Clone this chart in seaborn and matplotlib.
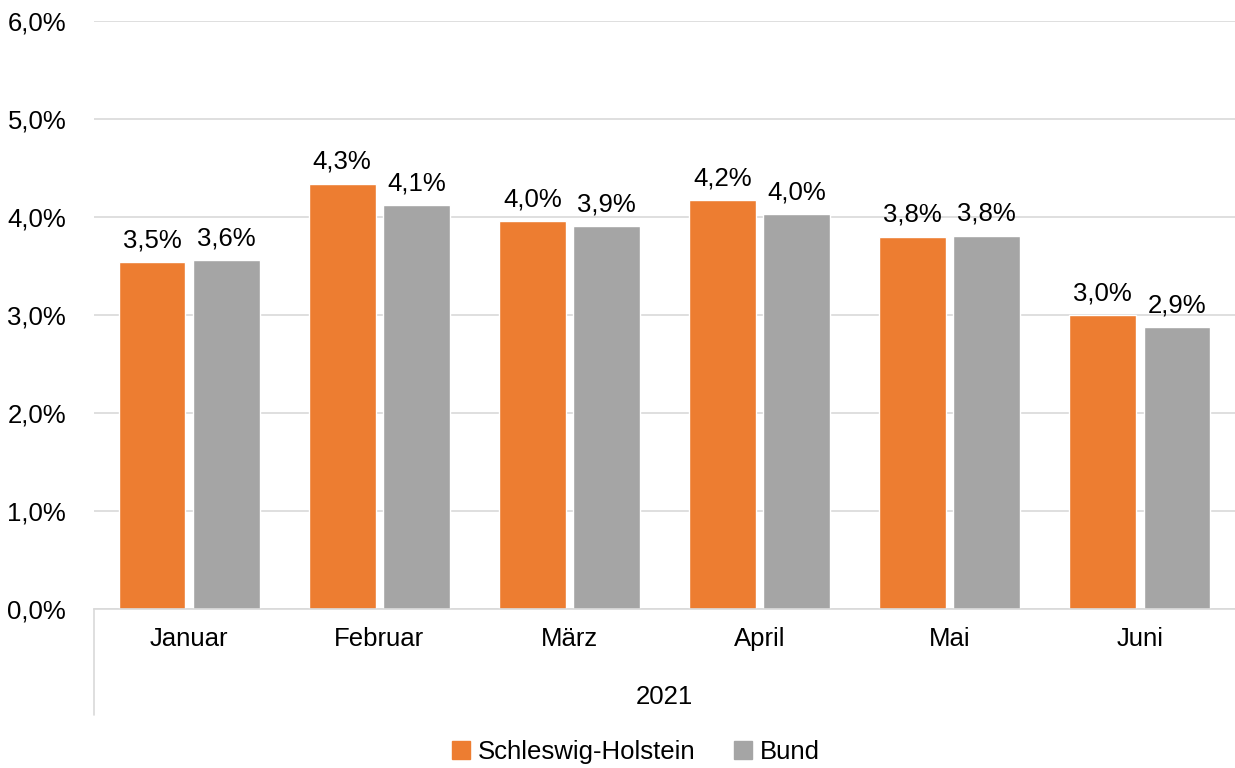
import pandas as pd
import matplotlib.pyplot as plt
import seaborn as sns

# values (percent)
months = ['Januar', 'Februar', 'März', 'April', 'Mai', 'Juni']
sh_values = [3.54, 4.34, 3.96, 4.17, 3.80, 3.00]
bund_values = [3.56, 4.12, 3.91, 4.03, 3.81, 2.88]
regions = ['Schleswig-Holstein', 'Bund']
year_label = '2021'
colors = ['#ED7D31', '#A5A5A5']

df = pd.DataFrame({
    'Monat': months * 2,
    'Wert': sh_values + bund_values,
    'Region': [regions[0]] * len(months) + [regions[1]] * len(months),
})

sns.set_style('white')
plt.rcParams['font.family'] = ['Liberation Sans Narrow', 'Liberation Sans', 'DejaVu Sans']
plt.rcParams['text.color'] = 'black'
plt.rcParams['xtick.color'] = 'black'
plt.rcParams['ytick.color'] = 'black'

fs = 18.5

fig = plt.figure(figsize=(12.35, 7.68), dpi=100)
ax = fig.add_axes([94 / 1235, 1 - 609 / 768, 1 - 94 / 1235, 588 / 768])

sns.barplot(data=df, x='Monat', y='Wert', hue='Region', palette=colors,
            width=0.78, gap=0.1, saturation=1, ax=ax, legend=False)

# data labels with German decimal comma
for cont in ax.containers:
    labels = [f'{b.get_height():.1f}%'.replace('.', ',') for b in cont]
    ax.bar_label(cont, labels=labels, padding=7, fontsize=fs, color='black')

ax.set_ylim(0, 6)
ax.set_xlim(-0.5, 5.5)
ax.set_yticks(range(7))
ax.set_yticklabels([f'{v},0%' for v in range(7)], fontsize=fs)
ax.tick_params(axis='y', length=0, pad=20)
ax.tick_params(axis='x', length=0, pad=13, labelsize=fs)
ax.yaxis.grid(True, color='#D9D9D9', linewidth=1.2)
ax.set_axisbelow(True)
ax.set_xlabel('')
ax.set_ylabel('')

for s in ['left', 'right', 'top']:
    ax.spines[s].set_visible(False)
ax.spines['bottom'].set_color('#D9D9D9')
ax.spines['bottom'].set_linewidth(1.2)

# vertical divider below the axis and year label
ax.plot([0, 0], [0, -0.18], transform=ax.transAxes, color='#D9D9D9',
        linewidth=1.2, clip_on=False)
ax.text(0.5, -0.15, year_label, transform=ax.transAxes, ha='center',
        va='center', fontsize=fs)

handles = [plt.Rectangle((0, 0), 1, 1, color=c) for c in colors]
fig.legend(handles, regions, loc='center', bbox_to_anchor=(0.515, 1 - 752 / 768),
           ncol=2, frameon=False, fontsize=fs, handlelength=0.7, handleheight=0.7,
           handletextpad=0.3, columnspacing=1.5)

fig.savefig('out.png', dpi=100)
